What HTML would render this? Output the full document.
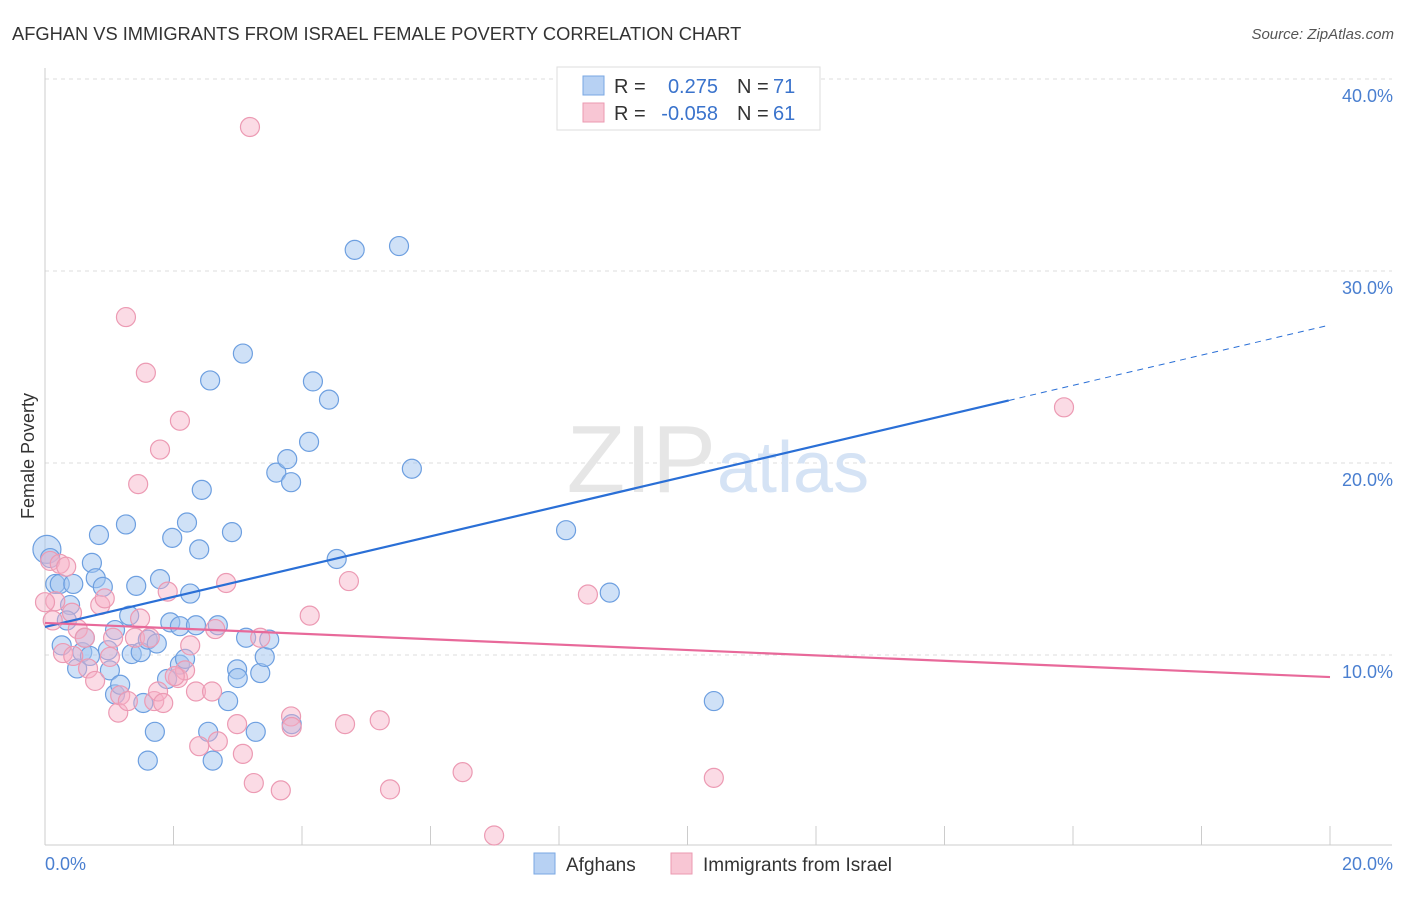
<!DOCTYPE html>
<html><head><meta charset="utf-8"><style>
body{margin:0;background:#fff;font-family:"Liberation Sans",sans-serif;}
svg text{font-family:"Liberation Sans",sans-serif;}
</style></head><body>
<svg width="1406" height="892">
<text x="12" y="40" font-size="18.3" fill="#333">AFGHAN VS IMMIGRANTS FROM ISRAEL FEMALE POVERTY CORRELATION CHART</text>
<text x="1394" y="39" font-size="15" fill="#555" font-style="italic" text-anchor="end">Source: ZipAtlas.com</text>
<g id="grid"></g>
<text x="716" y="492" font-size="96" fill="#e6e6e6" text-anchor="end">ZIP</text>
<text x="717" y="492" font-size="72" fill="#d5e3f5">atlas</text>
<line x1="45" y1="68" x2="45" y2="845" stroke="#ccc"/>
<line x1="45" y1="845" x2="1392" y2="845" stroke="#ccc"/>
<text transform="translate(34,456) rotate(-90)" font-size="18" fill="#333" text-anchor="middle">Female Poverty</text>
<text x="45" y="870" font-size="18" fill="#4a7fd0">0.0%</text>
<text x="1393" y="870" font-size="18" fill="#4a7fd0" text-anchor="end">20.0%</text>
<g id="pts"></g>
<g id="lines"></g>
<rect x="557" y="67" width="263" height="63" fill="#fff" stroke="#ddd"/>
<rect x="583" y="76" width="21" height="19" fill="#b7d1f3" stroke="#7aa7e3"/>
<rect x="583" y="103" width="21" height="19" fill="#f8c6d4" stroke="#eb9ab1"/>
<g font-size="20">
<text x="614" y="93" fill="#333">R =</text><text x="718" y="93" fill="#3a73cc" text-anchor="end">0.275</text>
<text x="737" y="93" fill="#333">N =</text><text x="773" y="93" fill="#3a73cc">71</text>
<text x="614" y="120" fill="#333">R =</text><text x="718" y="120" fill="#3a73cc" text-anchor="end">-0.058</text>
<text x="737" y="120" fill="#333">N =</text><text x="773" y="120" fill="#3a73cc">61</text>
</g>
<rect x="534" y="853" width="21" height="21" fill="#b7d1f3" stroke="#7aa7e3"/>
<text x="566" y="871" font-size="19" fill="#333">Afghans</text>
<rect x="671" y="853" width="21" height="21" fill="#f8c6d4" stroke="#eb9ab1"/>
<text x="703" y="871" font-size="19" fill="#333">Immigrants from Israel</text>
</svg>
<script>
const yTicks=[10,20,30,40];
const yTickLabels=["10.0%","20.0%","30.0%","40.0%"];
const xTicks=[0,2,4,6,8,10,12,14,16,18,20];
const blueX=[0.03,0.08,0.16,0.23,0.44,0.39,0.34,0.26,0.5,0.58,0.7,0.62,0.73,0.79,0.84,0.9,0.98,1.01,1.09,1.09,1.17,1.26,1.31,1.35,1.42,1.49,1.53,1.6,1.71,1.6,1.74,1.79,1.9,1.98,1.95,2.1,2.1,2.18,2.21,2.26,2.35,2.4,2.44,2.57,2.69,2.54,2.61,2.85,2.91,2.99,3.0,3.08,3.13,3.28,3.35,3.42,3.49,3.6,3.77,3.83,3.84,4.11,4.17,4.42,4.54,4.82,5.51,5.71,8.11,8.79,10.41];
const blueY=[15.5,15.05,13.7,13.7,13.7,12.6,11.8,10.5,9.3,10.15,9.95,10.9,14.8,14.0,16.25,13.55,10.25,9.2,7.95,11.3,8.45,16.8,12.05,10.05,13.6,10.15,7.5,10.8,6.0,4.5,10.6,13.95,8.75,16.1,11.7,11.5,9.5,9.8,16.9,13.2,11.55,15.5,18.6,24.3,11.55,6.0,4.5,7.6,16.4,9.25,8.8,25.7,10.9,6.0,9.06,9.9,10.8,19.5,20.2,19.0,6.4,21.1,24.25,23.3,15.0,31.1,31.3,19.7,16.5,13.25,7.6];
const pinkX=[3.19,1.26,1.57,2.1,1.79,1.45,0.16,0.08,0.23,0.33,0.12,0.42,0.51,0.28,0.44,0.62,0.67,0.78,0.86,0.93,1.01,1.06,1.14,1.17,1.29,1.48,1.4,1.63,1.7,1.76,1.84,1.91,2.07,2.18,2.26,2.35,2.4,2.6,2.65,2.69,2.82,2.99,3.08,3.25,3.35,3.67,3.83,3.84,4.12,4.67,4.73,5.21,5.37,6.5,6.99,8.45,10.41,15.86,2.02,0.0];
const pinkY=[37.5,27.6,24.7,22.2,20.7,18.9,12.8,14.9,14.75,14.6,11.8,12.2,11.35,10.1,9.95,10.9,9.3,8.65,12.6,12.95,9.9,10.9,7.0,7.9,7.6,11.9,10.9,10.9,7.6,8.1,7.5,13.3,8.8,9.2,10.5,8.1,5.25,8.1,11.35,5.5,13.75,6.4,4.85,3.33,10.9,2.95,6.8,6.25,12.05,6.4,13.85,6.6,3.0,3.9,0.6,13.15,3.6,22.9,8.9,12.75];
const blueTrend=[11.46,27.19];
const pinkTrend=[11.67,8.85];
const sx=v=>45+v/20*1285, sy=v=>847-v*19.2;
const NS="http://www.w3.org/2000/svg";
function mk(t,a){const e=document.createElementNS(NS,t);for(const k in a)e.setAttribute(k,a[k]);return e;}
const gridG=document.getElementById('grid');
yTicks.forEach((t,i)=>{
 const l=mk('line',{x1:45,x2:1392,y1:sy(t),y2:sy(t),stroke:'#ddd','stroke-dasharray':'4,4'});
 
 
 gridG.appendChild(l);
 const tx=mk('text',{x:1393,y:sy(t)+23,'font-size':18,fill:'#4a7fd0','text-anchor':'end'});
 tx.textContent=yTickLabels[i];
 
 
 gridG.appendChild(tx);
});
xTicks.forEach(t=>{
 const l=mk('line',{x1:sx(t),x2:sx(t),y1:826,y2:845,stroke:'#ccc'});
 
 
 gridG.appendChild(l);
});
const ptsG=document.getElementById('pts');
blueX.forEach((x,i)=>{
 const c=mk('circle',{cx:sx(x),cy:sy(blueY[i]),r:i==0?14:9.5,fill:'rgba(160,196,240,0.5)',stroke:'#6d9fe0','stroke-width':1.2});
 
 
 ptsG.appendChild(c);
});
pinkX.forEach((x,i)=>{
 const c=mk('circle',{cx:sx(x),cy:sy(pinkY[i]),r:9.5,fill:'rgba(246,176,198,0.45)',stroke:'#ec9ab3','stroke-width':1.2});
 
 
 ptsG.appendChild(c);
});
const linesG=document.getElementById('lines');
const bAt=x=>blueTrend[0]+(blueTrend[1]-blueTrend[0])*x/20;
const b1=mk('line',{x1:sx(0),y1:sy(bAt(0)),x2:sx(15),y2:sy(bAt(15)),stroke:'#2a6fd6','stroke-width':2.2});


linesG.appendChild(b1);
const b2=mk('line',{x1:sx(15),y1:sy(bAt(15)),x2:sx(20),y2:sy(bAt(20)),stroke:'#2a6fd6','stroke-width':1,'stroke-dasharray':'6,5'});


linesG.appendChild(b2);
const p1=mk('line',{x1:sx(0),y1:sy(pinkTrend[0]),x2:sx(20),y2:sy(pinkTrend[1]),stroke:'#e8699a','stroke-width':2.2});


linesG.appendChild(p1);
</script>
</body></html>
